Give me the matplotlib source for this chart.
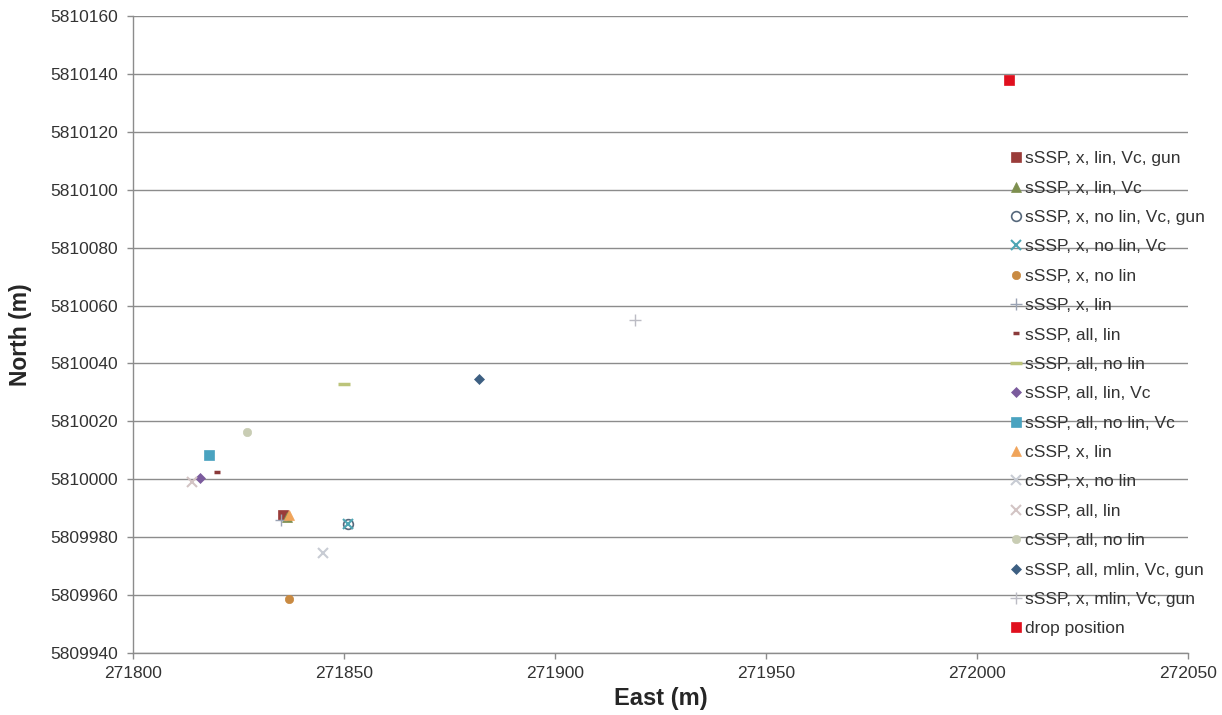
import matplotlib
matplotlib.use("Agg")
import matplotlib.pyplot as plt

plt.rcParams["font.family"] = ["Liberation Sans", "DejaVu Sans"]

# Solution labels (legend order)
labels = [
    "sSSP, x, lin, Vc, gun",
    "sSSP, x, lin, Vc",
    "sSSP, x, no lin, Vc, gun",
    "sSSP, x, no lin, Vc",
    "sSSP, x, no lin",
    "sSSP, x, lin",
    "sSSP, all, lin",
    "sSSP, all, no lin",
    "sSSP, all, lin, Vc",
    "sSSP, all, no lin, Vc",
    "cSSP, x, lin",
    "cSSP, x, no lin",
    "cSSP, all, lin",
    "cSSP, all, no lin",
    "sSSP, all, mlin, Vc, gun",
    "sSSP, x, mlin, Vc, gun",
    "drop position",
]

# Estimated positions (UTM)
east = [271835.5, 271836.5, 271851.0, 271851.0, 271837.0, 271835.0,
        271820.0, 271850.0, 271816.0, 271818.0, 271837.0, 271845.0,
        271814.0, 271827.0, 271882.0, 271919.0, 272007.5]
north = [5809987.5, 5809987.0, 5809984.5, 5809984.5, 5809958.5, 5809986.0,
         5810002.5, 5810033.0, 5810000.5, 5810008.5, 5809987.5, 5809974.5,
         5809999.0, 5810016.5, 5810034.5, 5810055.0, 5810138.0]

x_ticks = [271800, 271850, 271900, 271950, 272000, 272050]
y_ticks = [5809940, 5809960, 5809980, 5810000, 5810020, 5810040,
           5810060, 5810080, 5810100, 5810120, 5810140, 5810160]

# Marker style per series: (marker, face, edge, size, edge width)
styles = [
    ("s", "#9a3c3a", "#9a3c3a", 6.5, 0.5),
    ("^", "#7d8f4e", "#7d8f4e", 7.0, 0.5),
    ("o", "none", "#56687c", 7.0, 1.2),
    ("x", "#4ea6b4", "#4ea6b4", 6.5, 1.5),
    ("o", "#c98a42", "#c98a42", 6.0, 0.5),
    ("+", "#9aa3b4", "#9aa3b4", 8.0, 1.0),
    ("_", "#8b3a3a", "#8b3a3a", 5.0, 2.5),
    ("_", "#bcc47a", "#bcc47a", 8.0, 2.5),
    ("D", "#7b5b9d", "#7b5b9d", 5.5, 0.5),
    ("s", "#4aa3c0", "#4aa3c0", 6.5, 0.5),
    ("^", "#f0a45a", "#f0a45a", 7.0, 0.5),
    ("x", "#c8ccd4", "#c8ccd4", 7.5, 1.5),
    ("x", "#d3c4c4", "#d3c4c4", 6.5, 1.5),
    ("o", "#c9cdb4", "#c9cdb4", 6.0, 0.5),
    ("D", "#3d5f82", "#3d5f82", 5.5, 0.5),
    ("+", "#bcbcc4", "#bcbcc4", 9.0, 1.0),
    ("s", "#e0101e", "#e0101e", 6.5, 0.5),
]

fig = plt.figure(figsize=(12.22, 7.15), dpi=100)
ax = fig.add_axes([0.1088, 0.0867, 0.8634, 0.8909])

for lab, x, y, (m, fc, ec, ms, mew) in zip(labels, east, north, styles):
    ax.plot([x], [y], linestyle="none", marker=m, markerfacecolor=fc,
            markeredgecolor=ec, markersize=ms, markeredgewidth=mew,
            label=lab, zorder=3)

ax.set_xlim(x_ticks[0], x_ticks[-1])
ax.set_ylim(y_ticks[0], y_ticks[-1])
ax.set_xticks(x_ticks)
ax.set_yticks(y_ticks)
ax.set_xticklabels([str(v) for v in x_ticks])
ax.set_yticklabels([str(v) for v in y_ticks])

ax.yaxis.grid(True, color="#8c8c8c", linewidth=1.0)
ax.set_axisbelow(True)
for side in ("top", "right"):
    ax.spines[side].set_visible(False)
for side in ("left", "bottom"):
    ax.spines[side].set_color("#8c8c8c")
    ax.spines[side].set_linewidth(1.0)

ax.tick_params(axis="both", colors="#8c8c8c", length=4, width=1,
               labelcolor="#333333", labelsize=12.5)
ax.tick_params(axis="x", pad=5)
ax.tick_params(axis="y", pad=7)

ax.set_xlabel("East (m)", fontsize=17, fontweight="bold", color="#262626",
              labelpad=5)
ax.set_ylabel("North (m)", fontsize=16.5, fontweight="bold", color="#262626",
              labelpad=13)

leg = ax.legend(loc="upper left", bbox_to_anchor=(0.832, 0.788),
                frameon=False, fontsize=12.5, handlelength=0.6,
                handletextpad=0.2, labelspacing=0.82, borderaxespad=0,
                borderpad=0, numpoints=1)
for t in leg.get_texts():
    t.set_color("#333333")

fig.savefig("out.png", dpi=100)
